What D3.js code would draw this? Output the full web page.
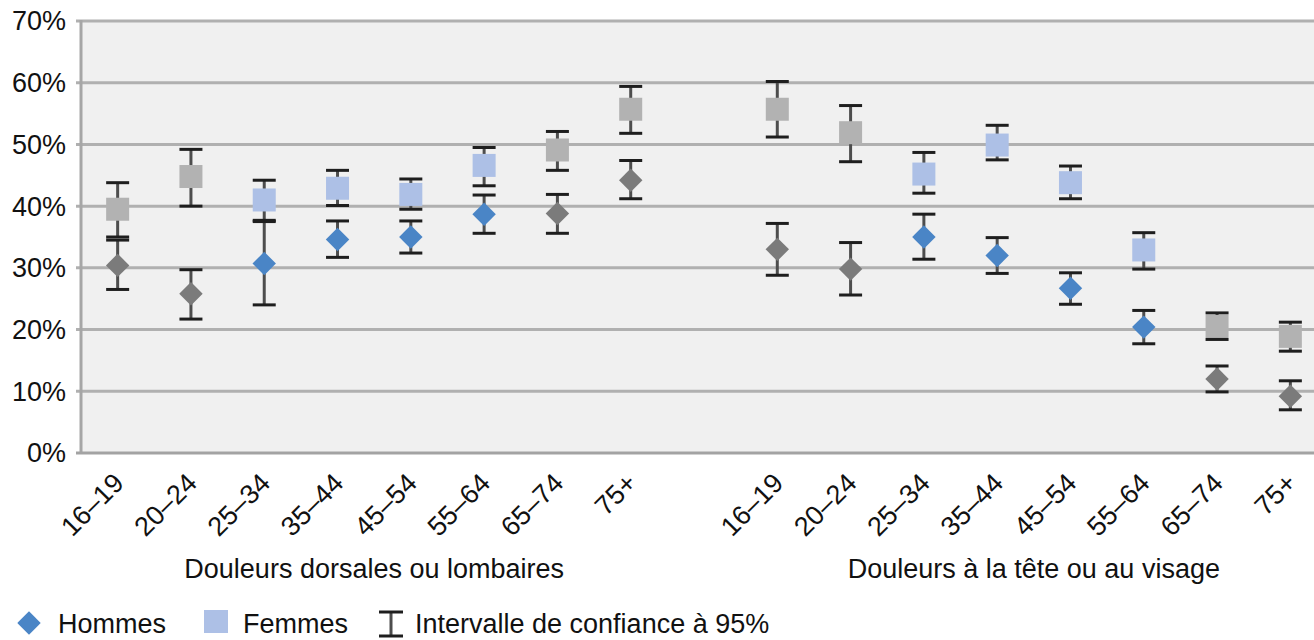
<!DOCTYPE html>
<html lang="fr">
<head>
<meta charset="utf-8">
<title>Douleurs</title>
<script src="https://d3js.org/d3.v7.min.js"></script>
<style>
body { margin: 0; background: #fff; }
text { font-family: "Liberation Sans", Arial, sans-serif; fill: #111; }
</style>
</head>
<body>
<svg width="1314" height="640"></svg>
<script>
// ---- data ----
var ages = ["16\u201319", "20\u201324", "25\u201334", "35\u201344", "45\u201354", "55\u201364", "65\u201374", "75+"];
var groups = ["Douleurs dorsales ou lombaires", "Douleurs \u00e0 la t\u00eate ou au visage"];
var yTicks = [0, 10, 20, 30, 40, 50, 60, 70];

// colored = significant difference, gray otherwise
var signif = [false, false, true, true, true, true, false, false];

var hommes1 = [30.4, 25.8, 30.7, 34.6, 35.0, 38.7, 38.8, 44.2];
var hommesLow1 = [26.5, 21.7, 24.0, 31.7, 32.4, 35.6, 35.6, 41.2];
var hommesHigh1 = [34.5, 29.7, 37.5, 37.6, 37.6, 41.8, 41.9, 47.4];
var femmes1 = [39.5, 44.8, 41.0, 42.9, 41.9, 46.6, 49.1, 55.7];
var femmesLow1 = [35.0, 40.0, 37.7, 40.1, 39.5, 43.3, 45.8, 51.8];
var femmesHigh1 = [43.8, 49.2, 44.2, 45.8, 44.4, 49.5, 52.1, 59.4];

var hommes2 = [33.0, 29.8, 35.0, 32.0, 26.7, 20.4, 12.0, 9.2];
var hommesLow2 = [28.8, 25.6, 31.4, 29.1, 24.1, 17.7, 9.9, 7.0];
var hommesHigh2 = [37.2, 34.1, 38.7, 34.9, 29.2, 23.1, 14.1, 11.7];
var femmes2 = [55.7, 51.9, 45.2, 49.9, 43.8, 32.9, 20.5, 18.9];
var femmesLow2 = [51.2, 47.2, 42.1, 47.5, 41.2, 29.8, 18.4, 16.5];
var femmesHigh2 = [60.2, 56.3, 48.7, 53.1, 46.5, 35.7, 22.7, 21.2];

var legendLabels = ["Hommes", "Femmes", "Intervalle de confiance \u00e0 95%"];

// ---- build points ----
var points = [];
function addSeries(g, sex, vals, lo, hi) {
  vals.forEach(function(v, i) {
    points.push({key: g + "|" + ages[i], sex: sex, v: v, lo: lo[i], hi: hi[i], sig: signif[i]});
  });
}
addSeries(0, "h", hommes1, hommesLow1, hommesHigh1);
addSeries(0, "f", femmes1, femmesLow1, femmesHigh1);
addSeries(1, "h", hommes2, hommesLow2, hommesHigh2);
addSeries(1, "f", femmes2, femmesLow2, femmesHigh2);

var slots = ages.map(function(a) { return "0|" + a; })
  .concat(["gap"])
  .concat(ages.map(function(a) { return "1|" + a; }));

var pLeft = 81, pRight = 1327, pTop = 21, pBottom = 453;
var fs = 27;

var x = d3.scaleBand().domain(slots).range([pLeft, pRight]);
var y = d3.scaleLinear().domain([0, 70]).range([pBottom, pTop]);

var col = {
  hSig: "#4a85c6", hNs: "#7b7b7b",
  fSig: "#adc0e6", fNs: "#b2b2b2"
};

var svg = d3.select("svg");

svg.append("rect")
  .attr("x", pLeft).attr("y", pTop)
  .attr("width", 1314 - pLeft).attr("height", pBottom - pTop)
  .attr("fill", "#f0f0f0");

// gridlines
svg.append("g").selectAll("line")
  .data(yTicks.filter(function(d) { return d > 0; }))
  .enter().append("line")
  .attr("x1", pLeft - 5).attr("x2", 1314)
  .attr("y1", function(d) { return y(d); })
  .attr("y2", function(d) { return y(d); })
  .attr("stroke", "#b0b0b0").attr("stroke-width", 3);

// axes lines
svg.append("line").attr("x1", pLeft).attr("x2", pLeft).attr("y1", pTop - 1).attr("y2", pBottom + 1)
  .attr("stroke", "#a6a6a6").attr("stroke-width", 3);
svg.append("line").attr("x1", pLeft - 5).attr("x2", 1314).attr("y1", pBottom).attr("y2", pBottom)
  .attr("stroke", "#a3a3a3").attr("stroke-width", 3);

// y labels
svg.append("g").selectAll("text")
  .data(yTicks).enter().append("text")
  .attr("x", 66).attr("y", function(d) { return y(d); })
  .attr("dy", "0.35em")
  .attr("text-anchor", "end")
  .attr("font-size", fs)
  .text(function(d) { return d + "%"; });

// x labels
svg.append("g").selectAll("text")
  .data(slots.filter(function(s) { return s !== "gap"; }))
  .enter().append("text")
  .attr("transform", function(d) {
    return "translate(" + (x(d) + x.bandwidth() / 2 + 1) + "," + (pBottom + 25) + ") rotate(-45)";
  })
  .attr("text-anchor", "end")
  .attr("dy", "0.35em")
  .attr("font-size", fs)
  .text(function(d) { return d.split("|")[1]; });

// group titles
groups.forEach(function(g, gi) {
  var a = x(gi + "|" + ages[0]), b = x(gi + "|" + ages[ages.length - 1]) + x.bandwidth();
  svg.append("text")
    .attr("x", (a + b) / 2).attr("y", 578)
    .attr("text-anchor", "middle")
    .attr("font-size", fs)
    .text(g);
});

function cx(d) { return x(d.key) + x.bandwidth() / 2; }

// error bar stems
svg.append("g").selectAll("line")
  .data(points).enter().append("line")
  .attr("x1", cx).attr("x2", cx)
  .attr("y1", function(d) { return y(d.lo); })
  .attr("y2", function(d) { return y(d.hi); })
  .attr("stroke", "#4d4d4d").attr("stroke-width", 3);

// markers
var diamond = d3.symbol().type(d3.symbolDiamond2).size(350);
svg.append("g").selectAll("path")
  .data(points.filter(function(d) { return d.sex === "h"; }))
  .enter().append("path")
  .attr("d", diamond)
  .attr("transform", function(d) { return "translate(" + cx(d) + "," + y(d.v) + ")"; })
  .attr("fill", function(d) { return d.sig ? col.hSig : col.hNs; });

svg.append("g").selectAll("rect")
  .data(points.filter(function(d) { return d.sex === "f"; }))
  .enter().append("rect")
  .attr("x", function(d) { return cx(d) - 11.5; })
  .attr("y", function(d) { return y(d.v) - 11.5; })
  .attr("width", 23).attr("height", 23)
  .attr("fill", function(d) { return d.sig ? col.fSig : col.fNs; });

// caps
var caps = [];
points.forEach(function(d) { caps.push({d: d, v: d.lo}); caps.push({d: d, v: d.hi}); });
svg.append("g").selectAll("line")
  .data(caps).enter().append("line")
  .attr("x1", function(c) { return cx(c.d) - 11.5; })
  .attr("x2", function(c) { return cx(c.d) + 11.5; })
  .attr("y1", function(c) { return y(c.v); })
  .attr("y2", function(c) { return y(c.v); })
  .attr("stroke", "#1e1e1e").attr("stroke-width", 3);

// legend
var lg = svg.append("g");
lg.append("path").attr("d", diamond).attr("transform", "translate(29,623)").attr("fill", col.hSig);
lg.append("text").attr("x", 58).attr("y", 633).attr("font-size", fs).text(legendLabels[0]);
lg.append("rect").attr("x", 204).attr("y", 610).attr("width", 24).attr("height", 23).attr("fill", col.fSig);
lg.append("text").attr("x", 243).attr("y", 633).attr("font-size", fs).text(legendLabels[1]);
lg.append("line").attr("x1", 391).attr("x2", 391).attr("y1", 612).attr("y2", 636).attr("stroke", "#4d4d4d").attr("stroke-width", 3);
lg.append("line").attr("x1", 379).attr("x2", 403).attr("y1", 612).attr("y2", 612).attr("stroke", "#1e1e1e").attr("stroke-width", 3);
lg.append("line").attr("x1", 379).attr("x2", 403).attr("y1", 636).attr("y2", 636).attr("stroke", "#1e1e1e").attr("stroke-width", 3);
lg.append("text").attr("x", 415).attr("y", 633).attr("font-size", fs).text(legendLabels[2]);
</script>
</body>
</html>
